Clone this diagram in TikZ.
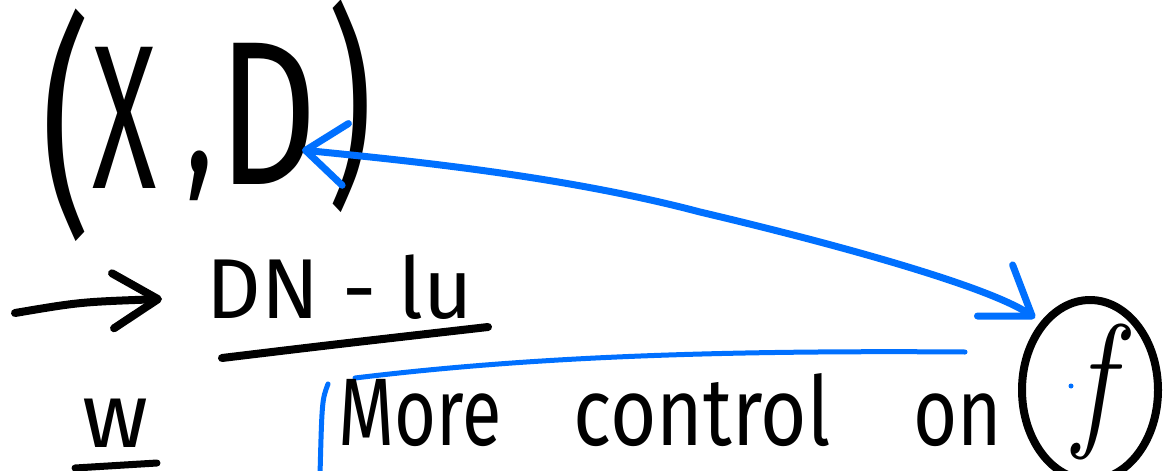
\documentclass[tikz,border=0pt]{standalone}
\usepackage{fontspec}
\newfontfamily\handfont{Fira Sans}
\usetikzlibrary{shapes.geometric,arrows.meta}
\definecolor{penblue}{RGB}{0,112,255}
\begin{document}
\begin{tikzpicture}[x=1pt,y=-1pt,
  hand/.style={inner sep=0pt, outer sep=0pt, text=black, font=\handfont},
  ink/.style={line width=7pt, line cap=round, line join=round, draw=black},
  blueink/.style={line width=6pt, line cap=round, line join=round, draw=penblue},
  barb/.style={-{Straight Barb[length=45pt,width=55pt,round]}}
]
\useasboundingbox (0,0) rectangle (1167,471);
\clip (0,0) rectangle (1167,471);

% (X , D)
\node[hand] (lpar) at (66,125) {\scalebox{0.65}[1]{\fontsize{235}{235}\selectfont (}};
\node[hand] (X) at (125,118) {\scalebox{0.58}[1]{\fontsize{205}{205}\selectfont X}};
\node[hand] (comma) at (200,176) {\scalebox{0.7}[1]{\fontsize{170}{170}\selectfont ,}};
\node[hand] (D) at (268,114) {\scalebox{0.75}[1]{\fontsize{205}{205}\selectfont D}};
\node[hand] (rpar) at (350,106) {\scalebox{0.65}[1]{\fontsize{215}{215}\selectfont )}};

% black arrow
\coordinate (arrS) at (15,313);
\coordinate (arrE) at (162,299);
\draw[ink, line width=8pt, barb] (arrS) .. controls (80,302) .. (arrE);

% DN - lu
\node[hand, anchor=base] (dn) at (340,318) {\fontsize{85}{85}\selectfont DN - lu};
\coordinate (ul1) at (222,358);
\coordinate (ul2) at (488,327);
\draw[ink, line width=8pt] (ul1) .. controls (330,345) .. (ul2);

% w underlined
\node[hand, anchor=base] (w) at (115,447) {\fontsize{92}{92}\selectfont w};
\coordinate (wl1) at (75,468);
\coordinate (wl2) at (157,463);
\draw[ink] (wl1) -- (wl2);

% blue bracket lines
\coordinate (bv1) at (328,384);
\coordinate (bv2) at (320,475);
\draw[blueink, line width=5pt] (bv1) .. controls (322,400) .. (bv2);
\coordinate (bh1) at (355,378);
\coordinate (bh2) at (965,352);
\draw[blueink, line width=5pt] (bh1) .. controls (520,358) and (700,350) .. (bh2);

% More control on
\node[hand, anchor=base] (more) at (420,445) {\scalebox{0.75}[1]{\fontsize{96}{96}\selectfont More}};
\node[hand, anchor=base] (control) at (702,445) {\scalebox{0.83}[1]{\fontsize{96}{96}\selectfont control}};
\node[hand, anchor=base] (on) at (958,445) {\scalebox{0.79}[1]{\fontsize{96}{96}\selectfont on}};

% circled f
\node[ellipse, draw=black, line width=8pt, minimum width=136pt, minimum height=180pt, inner sep=0pt] (fc) at (1090,390) {};
\node[inner sep=0pt, outer sep=0pt] (f) at (1094,392) {\scalebox{0.85}[1]{\fontsize{150}{150}\selectfont\itshape f}};
\fill[penblue] (1071,386) circle (2.5pt);

% blue double arrow
\coordinate (Dtip) at (302,150);
\coordinate (ftip) at (1035,318);
\draw[blueink, line width=7pt,
  {Straight Barb[length=40pt,width=62pt,round]}-{Straight Barb[length=45pt,width=62pt,round]}]
  (Dtip) .. controls (400,160) and (560,175) .. (700,212)
         .. controls (840,245) and (990,287) .. (ftip);
\end{tikzpicture}
\end{document}
